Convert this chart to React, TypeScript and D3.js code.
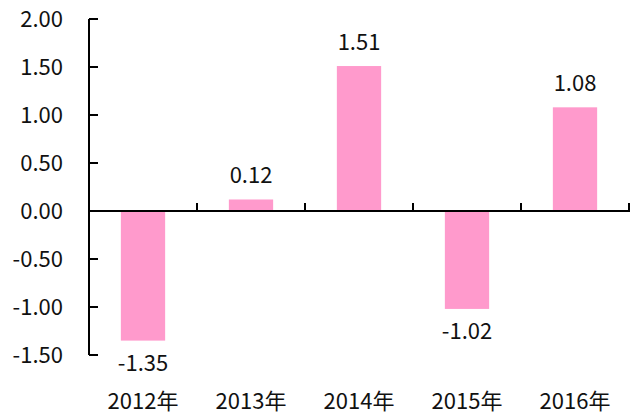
import React from "react";
import * as d3 from "d3";

const categories = ["2012年", "2013年", "2014年", "2015年", "2016年"];
const values = [-1.35, 0.12, 1.51, -1.02, 1.08];
const yTicks = [2.0, 1.5, 1.0, 0.5, 0.0, -0.5, -1.0, -1.5];
const title = "年度变化幅度（%）";

const W = 635;
const H = 414;
const FONT = "'Noto Sans CJK SC', 'Noto Sans', sans-serif";
const FS = 22;

export default function App() {
  const x = d3.scaleBand<string>().domain(categories).range([89, 629]).padding(0);
  const y = d3.scaleLinear().domain([-1.5, 2]).range([355, 19]);
  const barW = x.bandwidth() * 0.41;
  const y0 = y(0);
  const boundaries = categories.map((c) => (x(c) as number) + x.bandwidth());

  return (
    <div style={{ position: "absolute", left: 0, top: 0 }}>
      <svg width={W} height={H} style={{ display: "block", background: "#fff" }} fontFamily={FONT}>
        <text x={352} y={-4} textAnchor="middle" fontSize={FS} fill="#000">{title}</text>
        {values.map((v, i) => {
          const cx = (x(categories[i]) as number) + x.bandwidth() / 2;
          const top = Math.min(y(v), y0);
          const h = Math.abs(y(v) - y0);
          return (
            <g key={i}>
              <rect x={cx - barW / 2} y={top} width={barW} height={h} fill="#ff9acc" />
              <text
                x={cx}
                y={v >= 0 ? y(v) - 16 : y(v) + 30}
                textAnchor="middle"
                fontSize={FS}
                fill="#111"
              >
                {v.toFixed(2)}
              </text>
            </g>
          );
        })}
        {/* y axis */}
        <line x1={89} x2={89} y1={y(2)} y2={y(-1.5)} stroke="#000" strokeWidth={2} />
        {yTicks.map((t) => (
          <g key={t}>
            <line x1={89} x2={98} y1={y(t)} y2={y(t)} stroke="#000" strokeWidth={2} />
            <text x={63} y={y(t) + 8} textAnchor="end" fontSize={FS} fill="#111">
              {t.toFixed(2)}
            </text>
          </g>
        ))}
        {/* x axis at zero */}
        <line x1={89} x2={630} y1={y0} y2={y0} stroke="#000" strokeWidth={2} />
        {boundaries.map((bx, i) => (
          <line key={i} x1={bx} x2={bx} y1={y0} y2={y0 - 8} stroke="#000" strokeWidth={2} />
        ))}
        {categories.map((c) => (
          <text
            key={c}
            x={(x(c) as number) + x.bandwidth() / 2}
            y={409}
            textAnchor="middle"
            fontSize={FS}
            fill="#111"
          >
            {c}
          </text>
        ))}
      </svg>
    </div>
  );
}
